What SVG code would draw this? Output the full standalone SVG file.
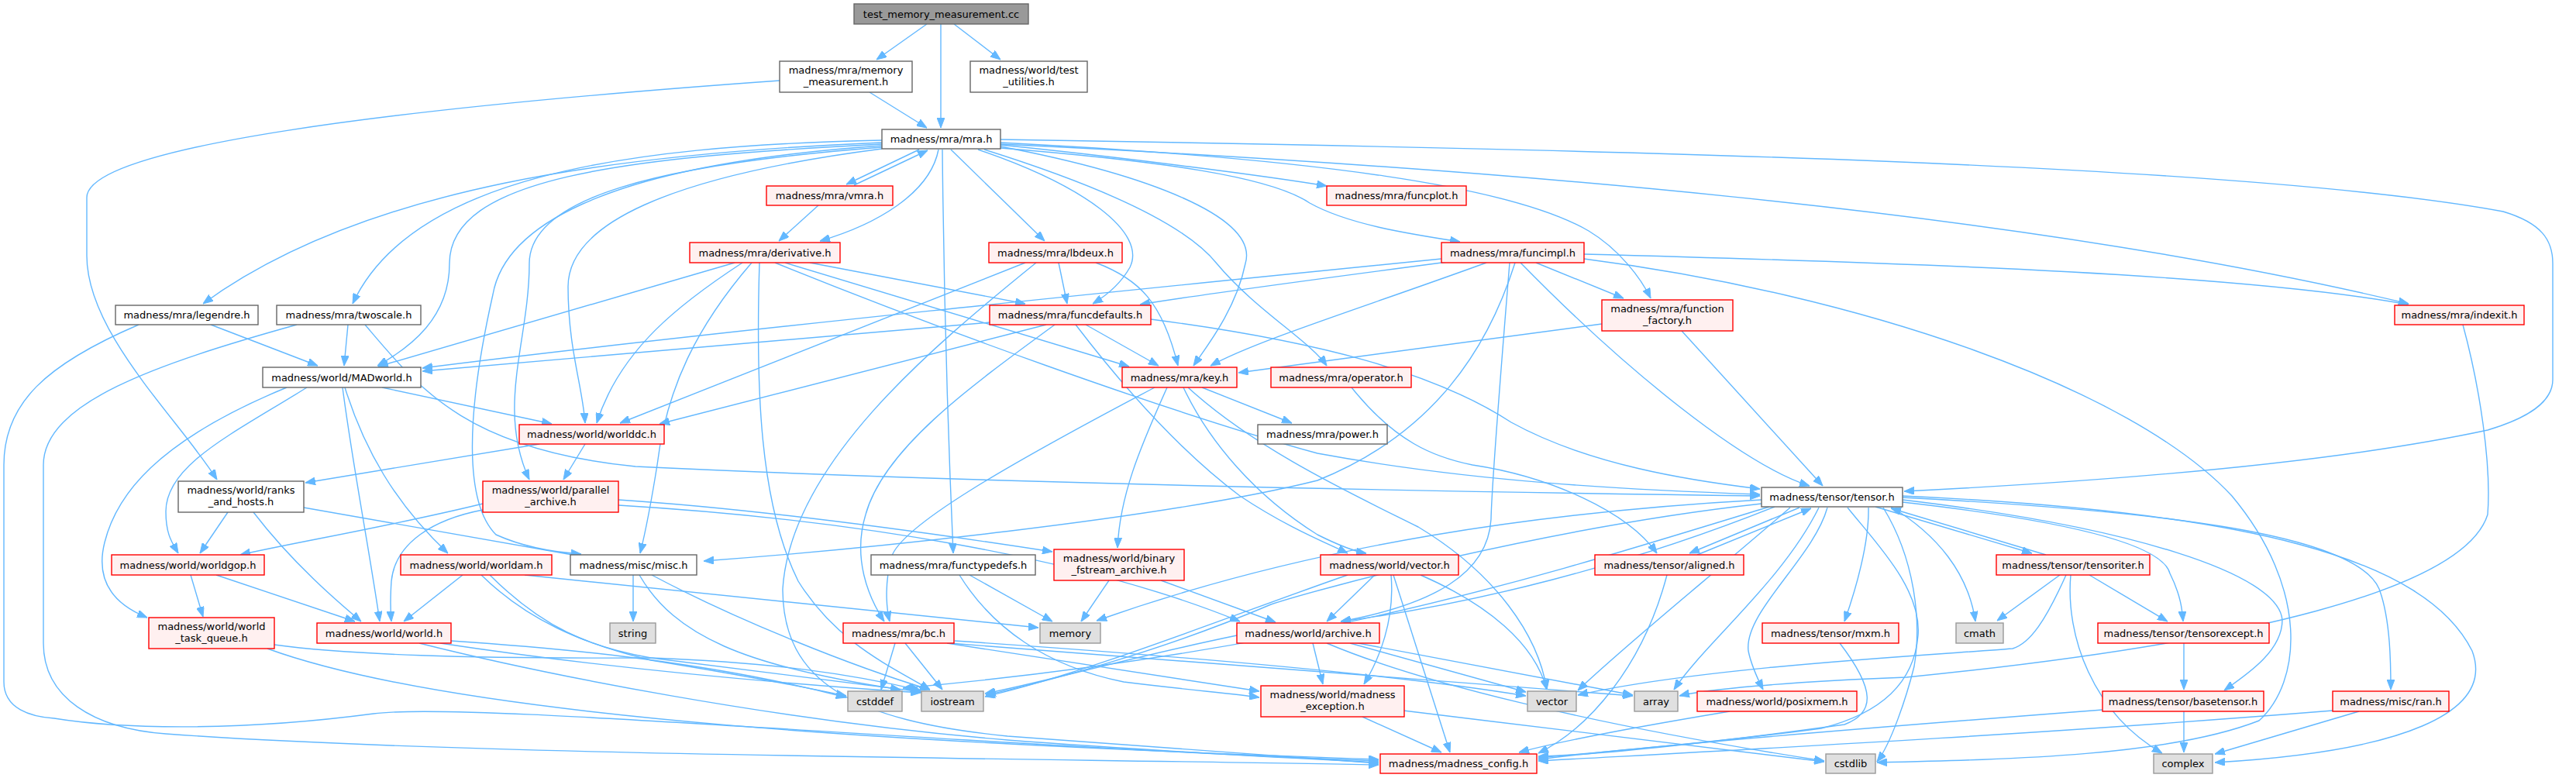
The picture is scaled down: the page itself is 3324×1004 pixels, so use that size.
<svg xmlns="http://www.w3.org/2000/svg" width="3324" height="1004" viewBox="0 0 3324 1004">
<style>
text{font-family:"DejaVu Sans","Liberation Sans",sans-serif;font-size:13px;text-anchor:middle;fill:#000}
.w rect{fill:#fff;stroke:#666;stroke-width:1.4}
.r rect{fill:#fff0f0;stroke:#f00;stroke-width:1.4}
.g rect{fill:#e0e0e0;stroke:#999;stroke-width:1.4}
.root rect{fill:#999;stroke:#666;stroke-width:1.4}
#edges path{fill:none;stroke:#63b8ff;stroke-width:1.4;marker-end:url(#a)}
</style>
<defs>
<marker id="a" markerWidth="13" markerHeight="10" refX="13" refY="5" orient="auto" markerUnits="userSpaceOnUse"><path d="M0,0 L13,5 L0,10 z" fill="#63b8ff" stroke="#63b8ff"/></marker>
</defs>
<rect width="3324" height="1004" fill="#fff"/>
<g id="edges">
<path d="M1196,31 L1131,77"/>
<path d="M1214,31 L1214,165"/>
<path d="M1231,31 L1291,77"/>
<path d="M1122,119 L1196,165"/>
<path d="M1006,104 C500,140 112,190 112,255 L112,330 C112,430 230,540 280,619"/>
<path d="M1186,193 L1092,238"/>
<path d="M1102,239 L1197,194"/>
<path d="M1211,193 C1200,250 1130,290 1058,311"/>
<path d="M1056,265 L1005,311"/>
<path d="M1227,193 L1348,311"/>
<path d="M1291,187 C1450,203 1640,228 1712,240"/>
<path d="M1291,191 C1500,208 1640,228 1690,262 C1740,290 1820,302 1884,312"/>
<path d="M1138,184 C800,198 470,240 262,392"/>
<path d="M1138,181 C800,188 530,230 455,392"/>
<path d="M1138,186 C800,203 580,230 580,340 C580,410 530,448 487,472"/>
<path d="M1138,188 C760,214 650,300 636,380 C600,540 600,650 640,690 C680,708 720,713 750,715"/>
<path d="M1138,190 C850,212 683,255 683,340 C683,440 640,525 683,619"/>
<path d="M1138,192 C860,228 733,290 733,370 C733,450 752,500 755,546"/>
<path d="M1262,193 C1400,240 1480,300 1458,345 C1445,368 1425,383 1410,392"/>
<path d="M1291,189 C1480,225 1625,280 1607,340 C1595,400 1555,450 1540,472"/>
<path d="M1270,193 C1420,240 1530,290 1570,340 C1620,400 1690,440 1712,472"/>
<path d="M1291,184 C1700,205 1950,240 2050,298 C2090,322 2118,360 2130,385"/>
<path d="M1291,186 C1900,215 2600,270 3108,392"/>
<path d="M1291,180 C2100,193 2900,212 3230,273 C3280,288 3294,310 3294,340 L3294,490 C3294,520 3260,540 3210,555 C3000,600 2700,622 2457,634"/>
<path d="M1216,193 C1218,400 1225,600 1230,714"/>
<path d="M1045,339 L1323,392"/>
<path d="M1013,339 L1457,473"/>
<path d="M948,339 L488,473"/>
<path d="M958,339 C880,390 800,450 770,546"/>
<path d="M970,339 C900,420 860,500 848,600 C840,650 832,690 826,714"/>
<path d="M980,339 C975,500 980,650 1030,750 C1080,830 1150,860 1200,890"/>
<path d="M1000,339 C1200,420 1500,530 1700,585 C1900,622 2100,632 2271,638"/>
<path d="M1366,339 L1377,392"/>
<path d="M1414,339 C1470,360 1500,390 1520,472"/>
<path d="M1323,339 L800,546"/>
<path d="M1337,339 C1200,450 1020,600 1010,760 C1010,880 1100,930 1300,950 C1500,965 1700,980 1779,985"/>
<path d="M1860,334 C1500,370 900,430 545,475"/>
<path d="M1868,338 C1700,360 1550,380 1471,393"/>
<path d="M1918,339 C1750,400 1620,440 1562,472"/>
<path d="M1948,339 C1935,500 1925,620 1924,670 C1920,740 1850,780 1730,802"/>
<path d="M1962,339 C2100,480 2250,600 2335,627"/>
<path d="M1982,339 L2095,385"/>
<path d="M2044,328 C2500,340 2900,355 3108,393"/>
<path d="M2044,334 C2400,380 2750,500 2880,640 C2980,760 2970,880 2915,930 C2800,975 2600,980 2422,984"/>
<path d="M1955,339 C1920,450 1850,560 1700,620 C1500,670 1100,710 908,724"/>
<path d="M1277,416 L545,479"/>
<path d="M1350,419 L851,547"/>
<path d="M1401,419 L1495,472"/>
<path d="M1361,419 C1250,500 1140,580 1117,664 C1100,720 1120,770 1141,802"/>
<path d="M1485,412 C1700,440 1850,480 1950,545 C2050,600 2180,620 2271,631"/>
<path d="M1388,419 C1450,500 1520,580 1600,640 C1660,680 1710,700 1739,714"/>
<path d="M1551,500 L1667,546"/>
<path d="M1490,500 C1300,600 1160,680 1150,720 C1140,760 1145,790 1148,802"/>
<path d="M1506,500 C1470,580 1445,640 1442,707"/>
<path d="M1527,500 C1560,570 1620,640 1700,690 C1730,705 1750,712 1763,714"/>
<path d="M1533,500 C1620,580 1750,640 1830,680 C1930,740 1985,820 1996,890"/>
<path d="M493,500 L712,547"/>
<path d="M396,500 C300,560 214,600 214,660 C214,690 222,700 230,714"/>
<path d="M370,500 C200,570 150,640 135,700 C120,760 160,785 190,797"/>
<path d="M445,500 C470,580 510,650 578,714"/>
<path d="M442,500 C455,600 475,700 490,802"/>
<path d="M696,573 L394,623"/>
<path d="M755,573 L727,619"/>
<path d="M294,661 L258,714"/>
<path d="M327,661 C380,730 440,780 466,802"/>
<path d="M392,655 L750,718"/>
<path d="M623,650 C500,680 380,700 310,716"/>
<path d="M623,658 C560,670 510,700 505,750 C503,780 504,790 505,802"/>
<path d="M798,645 C950,655 1150,680 1358,712"/>
<path d="M798,652 C1100,670 1400,720 1600,802"/>
<path d="M246,742 L262,796"/>
<path d="M279,742 L458,802"/>
<path d="M597,742 L521,802"/>
<path d="M621,742 C680,800 750,830 840,852 C950,870 1030,885 1092,898"/>
<path d="M632,742 C700,810 760,835 840,849 C1000,870 1130,885 1190,893"/>
<path d="M677,742 L1340,810"/>
<path d="M817,742 L817,802"/>
<path d="M825,742 C870,820 960,860 1162,890"/>
<path d="M841,742 C950,800 1100,860 1200,890"/>
<path d="M1251,742 L1358,802"/>
<path d="M1238,742 C1280,810 1350,860 1450,880 C1530,890 1590,895 1625,900"/>
<path d="M1431,749 L1395,802"/>
<path d="M1498,749 L1646,803"/>
<path d="M1155,830 L1137,890"/>
<path d="M1168,830 L1216,890"/>
<path d="M1222,830 L1625,892"/>
<path d="M1232,827 C1500,845 1800,870 1969,898"/>
<path d="M1225,830 C1600,860 1900,880 2107,898"/>
<path d="M1694,830 L1707,883"/>
<path d="M1712,830 C1830,880 2050,935 2354,982"/>
<path d="M1742,830 L1969,893"/>
<path d="M1747,829 L2107,897"/>
<path d="M1596,820 C1450,850 1350,880 1271,895"/>
<path d="M1774,742 L1712,802"/>
<path d="M1795,742 C1800,800 1780,850 1760,883"/>
<path d="M1798,742 L1871,971"/>
<path d="M1833,742 C1920,780 1980,830 1996,890"/>
<path d="M1739,742 C1600,790 1400,870 1271,899"/>
<path d="M2190,716 L2337,656"/>
<path d="M2322,655 L2180,714"/>
<path d="M2151,742 C2120,860 2050,940 1985,972"/>
<path d="M1744,500 C1800,570 1850,590 1900,600 C2000,615 2100,660 2138,714"/>
<path d="M2067,418 L1598,481"/>
<path d="M2170,427 L2352,627"/>
<path d="M471,419 C540,500 600,580 820,602 C1300,625 1900,635 2271,640"/>
<path d="M383,419 C200,470 56,520 56,600 L56,830 C56,900 120,940 214,947 C600,975 1300,978 1779,987"/>
<path d="M179,419 C60,470 5,520 5,600 L5,880 C5,915 40,925 70,927 C150,940 300,945 482,921 C600,905 1200,960 1779,982"/>
<path d="M272,419 L410,472"/>
<path d="M449,419 L444,472"/>
<path d="M582,827 C700,835 900,850 1092,900"/>
<path d="M568,830 C700,850 900,875 1188,894"/>
<path d="M541,830 C700,870 1000,930 1300,955 C1500,970 1700,980 1779,984"/>
<path d="M354,832 C450,845 600,850 840,849 C1000,855 1100,870 1188,891"/>
<path d="M345,837 C600,930 1200,960 1779,980"/>
<path d="M2420,654 L2622,714"/>
<path d="M2640,716 L2440,656"/>
<path d="M2411,655 C2412,700 2395,760 2380,802"/>
<path d="M2358,655 C2340,720 2250,790 2256,840 C2260,860 2270,880 2275,890"/>
<path d="M2347,655 C2300,750 2200,830 2160,890"/>
<path d="M2310,655 C2200,750 2100,830 2036,891"/>
<path d="M2384,655 C2420,700 2480,760 2475,820 C2470,880 2430,920 2350,940 C2200,960 2050,972 1985,978"/>
<path d="M2430,655 C2470,720 2480,800 2470,860 C2460,900 2440,960 2422,983"/>
<path d="M2440,654 C2500,690 2540,740 2549,802"/>
<path d="M2455,648 C2650,670 2790,700 2800,740 C2815,770 2816,790 2817,802"/>
<path d="M2455,645 C2750,680 2940,740 2945,800 C2945,840 2900,870 2870,891"/>
<path d="M2455,642 C2800,660 3040,690 3070,760 C3085,800 3085,860 3085,890"/>
<path d="M2455,640 C2900,660 3130,720 3190,840 C3220,920 3100,970 2858,984"/>
<path d="M2290,654 C2100,730 1900,780 1730,802"/>
<path d="M2273,645 C2000,660 1700,700 1415,801"/>
<path d="M2273,650 C2000,680 1700,760 1640,780 C1500,840 1350,880 1272,897"/>
<path d="M2283,654 C2000,740 1700,840 1165,888"/>
<path d="M2658,742 L2577,801"/>
<path d="M2696,742 L2797,802"/>
<path d="M2672,742 C2665,820 2700,920 2790,972"/>
<path d="M2666,742 C2640,800 2620,830 2597,837 C2500,845 2200,860 2036,897"/>
<path d="M2374,830 C2420,890 2420,920 2380,935 C2200,960 2050,975 1985,976"/>
<path d="M2818,830 L2818,890"/>
<path d="M2713,916 C2400,940 2100,965 1985,980"/>
<path d="M2818,918 L2818,971"/>
<path d="M3010,917 C2600,950 2200,970 1985,982"/>
<path d="M3044,918 L2858,973"/>
<path d="M2232,918 C2100,940 2000,960 1960,971"/>
<path d="M1758,925 L1860,971"/>
<path d="M1811,917 C2000,940 2200,965 2354,983"/>
<path d="M3178,419 C3200,500 3215,600 3210,664 C3180,760 2900,830 2460,874 C2300,880 2200,890 2167,898"/>
</g>
<g id="n_root" class="root"><rect x="1102" y="5" width="225" height="26"/><text x="1214.5" y="22.5">test_memory_measurement.cc</text></g>
<g id="n_memmeas" class="w"><rect x="1006" y="79" width="171" height="40"/><text x="1091.5" y="95">madness/mra/memory</text><text x="1091.5" y="110">_measurement.h</text></g>
<g id="n_testutil" class="w"><rect x="1252" y="79" width="151" height="40"/><text x="1327.5" y="95">madness/world/test</text><text x="1327.5" y="110">_utilities.h</text></g>
<g id="n_mra" class="w"><rect x="1138" y="167" width="153" height="25"/><text x="1214.5" y="184">madness/mra/mra.h</text></g>
<g id="n_vmra" class="r"><rect x="989" y="240" width="163" height="25"/><text x="1070.5" y="257">madness/mra/vmra.h</text></g>
<g id="n_funcplot" class="r"><rect x="1712" y="240" width="180" height="25"/><text x="1802" y="257">madness/mra/funcplot.h</text></g>
<g id="n_derivative" class="r"><rect x="890" y="313" width="194" height="26"/><text x="987" y="330.5">madness/mra/derivative.h</text></g>
<g id="n_lbdeux" class="r"><rect x="1276" y="313" width="172" height="26"/><text x="1362" y="330.5">madness/mra/lbdeux.h</text></g>
<g id="n_funcimpl" class="r"><rect x="1860" y="313" width="184" height="26"/><text x="1952" y="330.5">madness/mra/funcimpl.h</text></g>
<g id="n_legendre" class="w"><rect x="149" y="394" width="184" height="25"/><text x="241" y="411">madness/mra/legendre.h</text></g>
<g id="n_twoscale" class="w"><rect x="357" y="394" width="186" height="25"/><text x="450" y="411">madness/mra/twoscale.h</text></g>
<g id="n_funcdefaults" class="r"><rect x="1277" y="394" width="208" height="25"/><text x="1381" y="411">madness/mra/funcdefaults.h</text></g>
<g id="n_function_factory" class="r"><rect x="2067" y="387" width="169" height="40"/><text x="2151.5" y="403">madness/mra/function</text><text x="2151.5" y="418">_factory.h</text></g>
<g id="n_indexit" class="r"><rect x="3090" y="394" width="167" height="25"/><text x="3173.5" y="411">madness/mra/indexit.h</text></g>
<g id="n_MADworld" class="w"><rect x="339" y="474" width="204" height="26"/><text x="441" y="491.5">madness/world/MADworld.h</text></g>
<g id="n_key" class="r"><rect x="1448" y="474" width="148" height="26"/><text x="1522" y="491.5">madness/mra/key.h</text></g>
<g id="n_operator" class="r"><rect x="1640" y="474" width="181" height="26"/><text x="1730.5" y="491.5">madness/mra/operator.h</text></g>
<g id="n_worlddc" class="r"><rect x="670" y="548" width="187" height="25"/><text x="763.5" y="565">madness/world/worlddc.h</text></g>
<g id="n_power" class="w"><rect x="1623" y="548" width="167" height="25"/><text x="1706.5" y="565">madness/mra/power.h</text></g>
<g id="n_ranks" class="w"><rect x="230" y="621" width="162" height="40"/><text x="311" y="637">madness/world/ranks</text><text x="311" y="652">_and_hosts.h</text></g>
<g id="n_parallel" class="r"><rect x="623" y="621" width="175" height="40"/><text x="710.5" y="637">madness/world/parallel</text><text x="710.5" y="652">_archive.h</text></g>
<g id="n_tensor" class="w"><rect x="2273" y="629" width="182" height="25"/><text x="2364" y="646">madness/tensor/tensor.h</text></g>
<g id="n_worldgop" class="r"><rect x="144" y="716" width="197" height="26"/><text x="242.5" y="733.5">madness/world/worldgop.h</text></g>
<g id="n_worldam" class="r"><rect x="517" y="716" width="195" height="26"/><text x="614.5" y="733.5">madness/world/worldam.h</text></g>
<g id="n_misc" class="w"><rect x="736" y="716" width="163" height="26"/><text x="817.5" y="733.5">madness/misc/misc.h</text></g>
<g id="n_functypedefs" class="w"><rect x="1124" y="716" width="212" height="26"/><text x="1230" y="733.5">madness/mra/functypedefs.h</text></g>
<g id="n_binary" class="r"><rect x="1360" y="709" width="168" height="40"/><text x="1444" y="725">madness/world/binary</text><text x="1444" y="740">_fstream_archive.h</text></g>
<g id="n_vectorh" class="r"><rect x="1704" y="716" width="178" height="26"/><text x="1793" y="733.5">madness/world/vector.h</text></g>
<g id="n_aligned" class="r"><rect x="2058" y="716" width="192" height="26"/><text x="2154" y="733.5">madness/tensor/aligned.h</text></g>
<g id="n_tensoriter" class="r"><rect x="2576" y="716" width="198" height="26"/><text x="2675" y="733.5">madness/tensor/tensoriter.h</text></g>
<g id="n_wtq" class="r"><rect x="192" y="797" width="162" height="40"/><text x="273" y="813">madness/world/world</text><text x="273" y="828">_task_queue.h</text></g>
<g id="n_world" class="r"><rect x="409" y="804" width="173" height="26"/><text x="495.5" y="821.5">madness/world/world.h</text></g>
<g id="n_string" class="g"><rect x="787" y="804" width="59" height="26"/><text x="816.5" y="821.5">string</text></g>
<g id="n_bc" class="r"><rect x="1088" y="804" width="143" height="26"/><text x="1159.5" y="821.5">madness/mra/bc.h</text></g>
<g id="n_memory" class="g"><rect x="1342" y="804" width="78" height="26"/><text x="1381" y="821.5">memory</text></g>
<g id="n_archive" class="r"><rect x="1596" y="804" width="184" height="26"/><text x="1688" y="821.5">madness/world/archive.h</text></g>
<g id="n_mxm" class="r"><rect x="2274" y="804" width="176" height="26"/><text x="2362" y="821.5">madness/tensor/mxm.h</text></g>
<g id="n_cmath" class="g"><rect x="2524" y="804" width="61" height="26"/><text x="2554.5" y="821.5">cmath</text></g>
<g id="n_tensorexcept" class="r"><rect x="2707" y="804" width="221" height="26"/><text x="2817.5" y="821.5">madness/tensor/tensorexcept.h</text></g>
<g id="n_cstddef" class="g"><rect x="1094" y="892" width="70" height="26"/><text x="1129" y="909.5">cstddef</text></g>
<g id="n_iostream" class="g"><rect x="1189" y="892" width="80" height="26"/><text x="1229" y="909.5">iostream</text></g>
<g id="n_mexc" class="r"><rect x="1627" y="885" width="185" height="40"/><text x="1719.5" y="901">madness/world/madness</text><text x="1719.5" y="916">_exception.h</text></g>
<g id="n_vector" class="g"><rect x="1971" y="892" width="63" height="26"/><text x="2002.5" y="909.5">vector</text></g>
<g id="n_array" class="g"><rect x="2109" y="892" width="56" height="26"/><text x="2137" y="909.5">array</text></g>
<g id="n_posixmem" class="r"><rect x="2190" y="892" width="206" height="26"/><text x="2293" y="909.5">madness/world/posixmem.h</text></g>
<g id="n_basetensor" class="r"><rect x="2713" y="892" width="208" height="26"/><text x="2817" y="909.5">madness/tensor/basetensor.h</text></g>
<g id="n_ran" class="r"><rect x="3010" y="892" width="150" height="26"/><text x="3085" y="909.5">madness/misc/ran.h</text></g>
<g id="n_config" class="r"><rect x="1781" y="973" width="202" height="25"/><text x="1882" y="990">madness/madness_config.h</text></g>
<g id="n_cstdlib" class="g"><rect x="2356" y="973" width="64" height="25"/><text x="2388" y="990">cstdlib</text></g>
<g id="n_complex" class="g"><rect x="2779" y="973" width="76" height="25"/><text x="2817" y="990">complex</text></g>
</svg>
